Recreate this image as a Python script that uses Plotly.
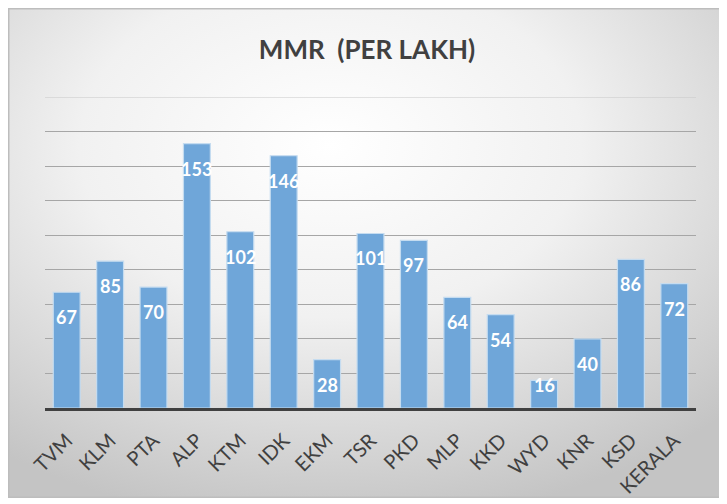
"""MMR per lakh by district - bar chart."""

import base64

import plotly.graph_objects as go

districts = ["TVM", "KLM", "PTA", "ALP", "KTM", "IDK", "EKM", "TSR",
             "PKD", "MLP", "KKD", "WYD", "KNR", "KSD", "KERALA"]
mmr = [67, 85, 70, 153, 102, 146, 28, 101, 97, 64, 54, 16, 40, 86, 72]

W, H = 727, 504
L, R, T, B = 37, 39, 89, 104
Y_MAX = 180
px_per_unit = (H - T - B) / Y_MAX
FONT = "Lato, Carlito, sans-serif"

# radial grey background like the Excel chart style
svg = f"""<svg xmlns='http://www.w3.org/2000/svg' width='716' height='490'>
<defs><radialGradient id='g' cx='0.45' cy='0.28' r='0.78'>
<stop offset='0' stop-color='#ffffff'/><stop offset='0.45' stop-color='#f1f1f1'/>
<stop offset='1' stop-color='#c4c4c4'/></radialGradient></defs>
<rect x='0.75' y='0.75' width='714.5' height='488.5' fill='url(#g)' stroke='#bdbdbd' stroke-width='1.5'/>
</svg>"""
bg = "data:image/svg+xml;base64," + base64.b64encode(svg.encode()).decode()

pw, ph = W - L - R, H - T - B

fig = go.Figure(go.Bar(
    x=districts,
    y=mmr,
    marker=dict(color="#6fa6d9", line=dict(color="#c5dcf0", width=1.2)),
    hoverinfo="x+y",
))

# value labels: inside end, kept clear of the baseline
for d, v in zip(districts, mmr):
    shift = min(25, v * px_per_unit - 23)
    fig.add_annotation(x=d, y=v, yshift=-shift, text=f"<b>{v}</b>", showarrow=False,
                       font=dict(family=FONT, size=18, color="white"))

# top gridline at 180 (plotly skips the one on the range edge)
fig.add_hline(y=Y_MAX, line=dict(color="#c8c8c8", width=1))

fig.add_layout_image(dict(
    source=bg, xref="paper", yref="paper",
    x=-L / pw, y=(H - B) / ph,
    sizex=716 / pw, sizey=490 / ph,
    xanchor="left", yanchor="top", sizing="stretch", layer="below",
))

fig.update_layout(
    width=W, height=H,
    margin=dict(l=L, r=R, t=T, b=B),
    paper_bgcolor="white",
    plot_bgcolor="rgba(0,0,0,0)",
    bargap=0.38,
    showlegend=False,
    title=dict(text="<b>MMR\u00a0 (PER LAKH)</b>", x=359 / W, xanchor="center", xref="container",
               y=1 - 42 / H, yanchor="middle",
               font=dict(family=FONT, size=26, color="#404040")),
)
fig.update_xaxes(
    tickangle=-45, tickfont=dict(family=FONT, size=20, color="#404040"),
    showline=True, linewidth=3, linecolor="#404040", ticks="", showgrid=False,
    ticklabelstandoff=10, automargin=False,
)
fig.update_yaxes(
    range=[0, Y_MAX], dtick=20, showticklabels=False, gridcolor="#a6a6a6", gridwidth=1,
    zeroline=False, showline=False, automargin=False,
)

fig.write_html("out.html")
